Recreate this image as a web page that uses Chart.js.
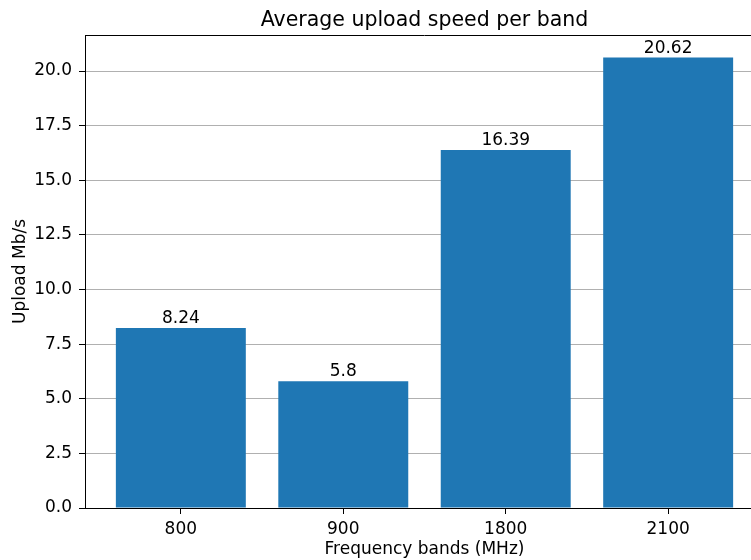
<!DOCTYPE html>
<html>
<head>
<meta charset="utf-8">
<script src="https://cdn.jsdelivr.net/npm/chart.js@4.4.1/dist/chart.umd.min.js"></script>
<style>
  html, body { margin: 0; padding: 0; background: #fff; overflow: hidden; }
  #wrap { width: 770px; height: 560px; }
</style>
</head>
<body>
<div id="wrap"><canvas id="chart" width="770" height="560"></canvas></div>
<script>
// Frequency bands and their average upload speed (Mb/s)
const bands = ['800', '900', '1800', '2100'];
const uploadSpeeds = [8.24, 5.8, 16.39, 20.62];
const yTicks = [0, 2.5, 5, 7.5, 10, 12.5, 15, 17.5, 20];

const FONT = '"DejaVu Sans", sans-serif';
const BAR_COLOR = '#1f77b4';

// Title centred over the plot area, top spine, and value labels above bars
const decorations = {
    id: 'decorations',
    afterDatasetsDraw(chart) {
        const ctx = chart.ctx;
        const area = chart.chartArea;
        ctx.save();

        ctx.strokeStyle = '#000';
        ctx.lineWidth = 1;
        ctx.beginPath();
        ctx.moveTo(area.left, area.top + 0.5);
        ctx.lineTo(area.right, area.top + 0.5);
        ctx.stroke();

        ctx.fillStyle = '#000';
        ctx.textAlign = 'center';
        ctx.textBaseline = 'alphabetic';
        ctx.font = '20.5px ' + FONT;
        ctx.fillText('Average upload speed per band', (area.left + area.right) / 2, 26);

        ctx.font = '17px ' + FONT;
        const meta = chart.getDatasetMeta(0);
        meta.data.forEach(function(bar, i) {
            ctx.fillText(String(uploadSpeeds[i]), bar.x, bar.y - 5);
        });
        ctx.restore();
    }
};

new Chart(document.getElementById('chart'), {
    type: 'bar',
    data: {
        datasets: [{
            data: uploadSpeeds.map((v, i) => ({ x: i, y: v })),
            backgroundColor: BAR_COLOR,
            borderWidth: 0,
            inflateAmount: 0,
            barPercentage: 0.8,
            categoryPercentage: 1.0
        }]
    },
    options: {
        responsive: false,
        animation: false,
        layout: { padding: { top: 35, right: 6, left: 0, bottom: 0 } },
        plugins: {
            legend: { display: false },
            tooltip: { enabled: false }
        },
        scales: {
            x: {
                type: 'linear',
                offset: false,
                min: -0.59,
                max: 3.59,
                afterBuildTicks: function(scale) {
                    scale.ticks = bands.map((b, i) => ({ value: i }));
                },
                afterFit: function(scale) { scale.height = 52; },
                ticks: {
                    callback: (value) => bands[value],
                    color: '#000',
                    font: { family: FONT, size: 17 },
                    padding: 5,
                    maxRotation: 0
                },
                grid: {
                    offset: false,
                    drawOnChartArea: false,
                    tickLength: 6,
                    tickColor: '#000'
                },
                border: { color: '#000', width: 1 },
                title: {
                    display: true,
                    text: 'Frequency bands (MHz)',
                    color: '#000',
                    font: { family: FONT, size: 17 },
                    padding: { top: 0, bottom: 0 }
                }
            },
            y: {
                type: 'linear',
                min: 0,
                max: 21.65,
                afterBuildTicks: function(scale) {
                    scale.ticks = yTicks.map(v => ({ value: v }));
                },
                afterFit: function(scale) { scale.width = 85; },
                ticks: {
                    callback: (value) => value.toFixed(1),
                    color: '#000',
                    font: { family: FONT, size: 17 },
                    padding: 7
                },
                grid: {
                    color: '#b0b0b0',
                    lineWidth: 1,
                    tickLength: 6,
                    tickColor: '#000'
                },
                border: { color: '#000', width: 1 },
                title: {
                    display: true,
                    text: 'Upload Mb/s',
                    color: '#000',
                    font: { family: FONT, size: 17 },
                    padding: { top: 10, bottom: 0 }
                }
            }
        }
    },
    plugins: [decorations]
});
</script>
</body>
</html>
